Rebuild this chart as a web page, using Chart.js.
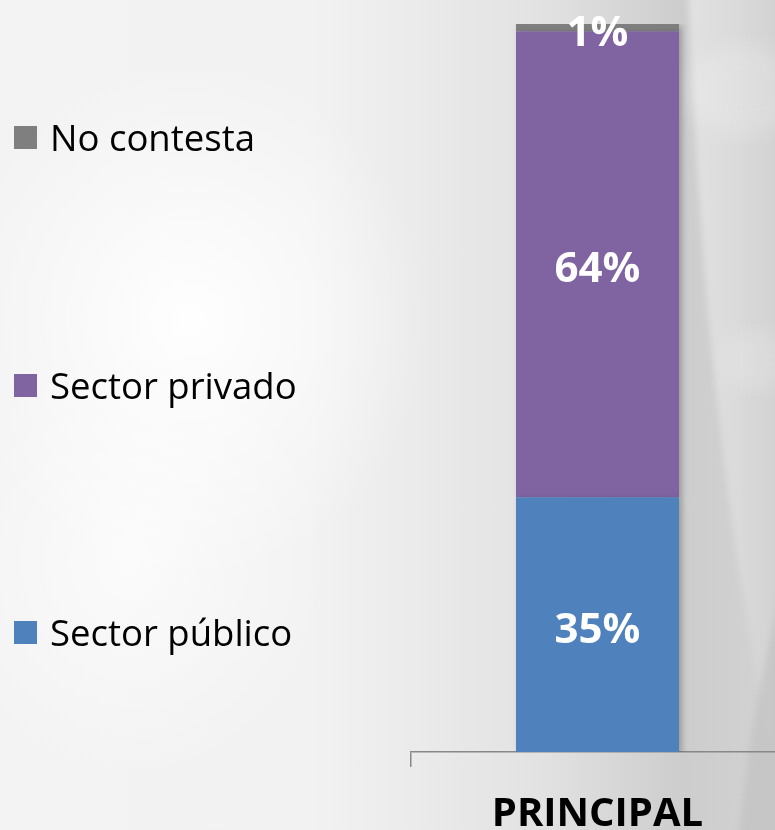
<!DOCTYPE html>
<html><head><meta charset="utf-8">
<script src="https://cdn.jsdelivr.net/npm/chart.js@4.4.1/dist/chart.umd.min.js"></script>
<style>
html,body{margin:0;padding:0;width:775px;height:830px;overflow:hidden;}
body{position:relative;background:#eeeeee;}
#bg{position:absolute;left:0;top:0;}
#wrap{position:absolute;left:0;top:0;width:790px;height:830px;}
.lg{position:absolute;left:14px;font-family:"Open Sans",sans-serif;font-size:36.5px;color:#000;display:flex;align-items:center;white-space:nowrap;}
.lg span.sw{display:inline-block;width:23px;height:23px;margin-right:13px;}
</style></head>
<body>
<svg id="bg" width="775" height="830" xmlns="http://www.w3.org/2000/svg">
  <defs>
    <linearGradient id="g0" x1="0" x2="1" y1="0" y2="0">
      <stop offset="0" stop-color="#f3f3f3"/>
      <stop offset="0.4" stop-color="#f2f2f2"/>
      <stop offset="0.7" stop-color="#e2e2e2"/>
      <stop offset="0.88" stop-color="#cdcdcd"/>
      <stop offset="1" stop-color="#d2d2d2"/>
    </linearGradient>
    <radialGradient id="r1" cx="0.5" cy="0.5" r="0.5">
      <stop offset="0" stop-color="#ffffff" stop-opacity="0.95"/>
      <stop offset="1" stop-color="#ffffff" stop-opacity="0"/>
    </radialGradient>
    <linearGradient id="g2" x1="0" x2="1" y1="0" y2="0">
      <stop offset="0" stop-color="#e2e2e2"/>
      <stop offset="0.5" stop-color="#dadada"/>
      <stop offset="1" stop-color="#cfcfcf"/>
    </linearGradient>
    <filter id="b3"><feGaussianBlur stdDeviation="3"/></filter>
    <filter id="b10"><feGaussianBlur stdDeviation="10"/></filter>
  </defs>
  <rect width="775" height="830" fill="url(#g0)"/>
  <ellipse cx="190" cy="320" rx="240" ry="260" fill="url(#r1)"/>
  <ellipse cx="130" cy="560" rx="200" ry="220" fill="url(#r1)" opacity="0.7"/>
  <path d="M688 -10 C 700 250, 715 500, 790 840 L 790 -10 Z" fill="url(#g2)" filter="url(#b3)"/>
  <path d="M790 560 C 765 650, 748 740, 738 840 L 790 840 Z" fill="#b9b9b9" opacity="0.45" filter="url(#b3)"/>
  <ellipse cx="745" cy="90" rx="60" ry="45" fill="#ffffff" opacity="0.18" filter="url(#b10)"/>
  <ellipse cx="760" cy="360" rx="40" ry="30" fill="#ffffff" opacity="0.15" filter="url(#b10)"/>
</svg>
<div id="wrap"><canvas id="c" width="790" height="830"></canvas></div>
<div id="legend"></div>
<script>
const categories = ["PRINCIPAL"];
const seriesNames = ["Sector público", "Sector privado", "No contesta"];
const sectorPublico = [35];
const sectorPrivado = [64];
const noContesta = [1];
const seriesColors = ["#4F81BD", "#8064A2", "#7F7F7F"];
const seriesValues = [sectorPublico, sectorPrivado, noContesta];

// HTML legend (top to bottom in reverse order)
const legendCenters = [632, 385, 137];
const lg = document.getElementById('legend');
seriesNames.forEach((n, i) => {
  const d = document.createElement('div');
  d.className = 'lg';
  d.style.top = (legendCenters[i] - 24) + 'px';
  d.style.height = '48px';
  d.innerHTML = '<span class="sw" style="background:' + seriesColors[i] + '"></span>' + n;
  lg.appendChild(d);
});

const labelPlugin = {
  id: 'barLabels',
  afterDatasetsDraw(chart) {
    const ctx = chart.ctx;
    ctx.save();
    ctx.font = 'bold 42px "Open Sans", sans-serif';
    ctx.fillStyle = '#ffffff';
    ctx.textAlign = 'center';
    ctx.textBaseline = 'middle';
    chart.data.datasets.forEach((ds, di) => {
      const meta = chart.getDatasetMeta(di);
      meta.data.forEach((el, i) => {
        const y = (el.y + el.base) / 2 + 6;
        ctx.fillText(ds.data[i] + '%', el.x, y);
      });
    });
    ctx.restore();
  }
};
const shadowPlugin = {
  id: 'shadow',
  beforeDatasetsDraw(chart) {
    chart.ctx.save();
    chart.ctx.shadowColor = 'rgba(0,0,0,0.25)';
    chart.ctx.shadowBlur = 6;
    chart.ctx.shadowOffsetX = 3;
    chart.ctx.shadowOffsetY = 2;
  },
  afterDatasetsDraw(chart) { chart.ctx.restore(); }
};

new Chart(document.getElementById('c'), {
  type: 'bar',
  data: {
    labels: categories,
    datasets: seriesNames.map((n, i) => ({
      label: n,
      data: seriesValues[i],
      backgroundColor: seriesColors[i],
      borderWidth: 0,
      barPercentage: 0.437,
      categoryPercentage: 1
    }))
  },
  options: {
    responsive: false,
    animation: false,
    layout: { padding: { left: 411, right: 6, top: 24, bottom: 0 } },
    plugins: { legend: { display: false }, tooltip: { enabled: false } },
    scales: {
      x: {
        stacked: true,
        grid: { display: true, drawOnChartArea: false, tickLength: 15, color: '#888888', lineWidth: 1.5, offset: true },
        border: { display: true, color: '#888888', width: 1.5 },
        ticks: { color: '#000', font: { family: '"Open Sans", sans-serif', size: 40, weight: 'bold' }, padding: 24 },
        afterFit(s) { s.height = 830 - 752; }
      },
      y: { stacked: true, display: false, min: 0, max: 100 }
    }
  },
  plugins: [shadowPlugin, labelPlugin]
});
</script>
</body></html>
